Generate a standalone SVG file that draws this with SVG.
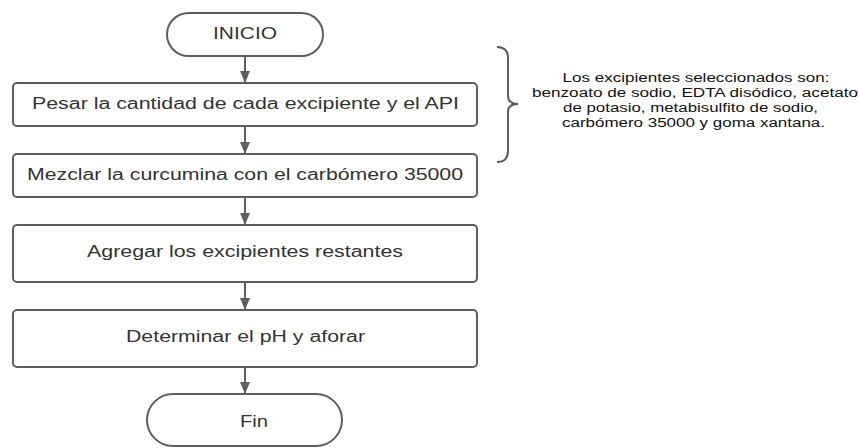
<svg xmlns="http://www.w3.org/2000/svg" width="859" height="448" viewBox="0 0 859 448">
<defs>
<marker id="ah" viewBox="0 0 12 10" refX="12" refY="5" markerWidth="12" markerHeight="10" markerUnits="userSpaceOnUse" orient="auto">
<path d="M0,0 L12,5 L0,10 z" fill="#5e5e5e"/>
</marker>
<style>
.n{fill:#fff;stroke:#5e5e5e;stroke-width:2}
.t{font-family:"Liberation Sans",Arial,sans-serif;font-size:16px;fill:#333;text-anchor:middle}
.s{font-family:"Liberation Sans",Arial,sans-serif;font-size:12.5px;fill:#111;text-anchor:middle}
.c{stroke:#5e5e5e;stroke-width:2;fill:none;marker-end:url(#ah)}
</style>
</defs>
<rect width="859" height="448" fill="#fff"/>
<g id="connectors">
<line class="c" x1="245" y1="56" x2="245" y2="83"/>
<line class="c" x1="245" y1="126" x2="245" y2="154"/>
<line class="c" x1="245" y1="197" x2="245" y2="225"/>
<line class="c" x1="245" y1="282" x2="245" y2="310"/>
<line class="c" x1="245" y1="367" x2="245" y2="394"/>
</g>
<g id="inicio">
<rect class="n" x="167" y="13" width="156" height="43" rx="21.5"/>
<text class="t" x="245" y="39" textLength="64" lengthAdjust="spacingAndGlyphs">INICIO</text>
</g>
<g id="pesar">
<rect class="n" x="13" y="83" width="464" height="43" rx="4"/>
<text class="t" x="245.5" y="109" textLength="427" lengthAdjust="spacingAndGlyphs">Pesar la cantidad de cada excipiente y el API</text>
</g>
<g id="mezclar">
<rect class="n" x="13" y="154" width="464" height="43" rx="4"/>
<text class="t" x="245" y="180" textLength="436" lengthAdjust="spacingAndGlyphs">Mezclar la curcumina con el carbómero 35000</text>
</g>
<g id="agregar">
<rect class="n" x="13" y="225" width="464" height="57" rx="4"/>
<text class="t" x="245" y="257" textLength="316" lengthAdjust="spacingAndGlyphs">Agregar los excipientes restantes</text>
</g>
<g id="determinar">
<rect class="n" x="13" y="310" width="464" height="57" rx="4"/>
<text class="t" x="245.5" y="342" textLength="239" lengthAdjust="spacingAndGlyphs">Determinar el pH y aforar</text>
</g>
<g id="fin">
<rect class="n" x="147" y="394" width="195" height="52" rx="26"/>
<text class="t" x="254" y="427" textLength="28" lengthAdjust="spacingAndGlyphs">Fin</text>
</g>
<g id="nota">
<path d="M497,47 Q508,47 508,58 L508,96 Q508,104 518,104 Q508,104 508,112 L508,151 Q508,162 497,162" fill="none" stroke="#5e5e5e" stroke-width="2"/>
<text class="s" x="696" y="82" textLength="267" lengthAdjust="spacingAndGlyphs">Los excipientes seleccionados son:</text>
<text class="s" x="695" y="97" textLength="326" lengthAdjust="spacingAndGlyphs">benzoato de sodio, EDTA disódico, acetato</text>
<text class="s" x="690.5" y="112" textLength="255" lengthAdjust="spacingAndGlyphs">de potasio, metabisulfito de sodio,</text>
<text class="s" x="693.5" y="127" textLength="263" lengthAdjust="spacingAndGlyphs">carbómero 35000 y goma xantana.</text>
</g>
</svg>
